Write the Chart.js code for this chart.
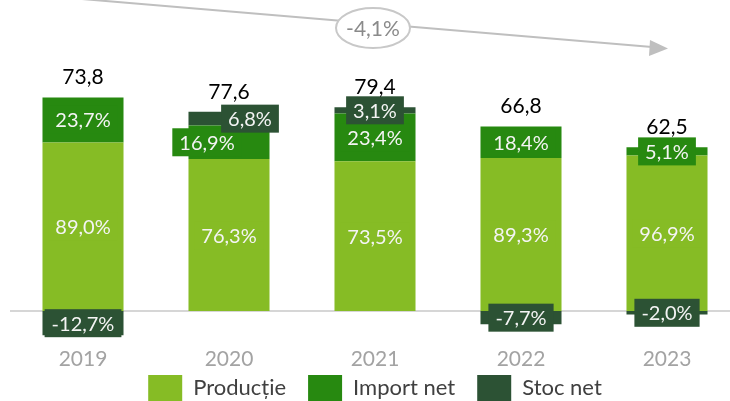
<!DOCTYPE html>
<html>
<head>
<meta charset="utf-8">
<script src="https://cdn.jsdelivr.net/npm/chart.js@4.4.0/dist/chart.umd.min.js"></script>
<style>
  html, body { margin: 0; padding: 0; background: #fff; overflow: hidden; }
  /* a bit wider / taller than the window: the right edge gets cut off like the original */
  #wrap { width: 740px; height: 440px; }
</style>
</head>
<body>
<div id="wrap"><canvas id="chart"></canvas></div>
<script>
const years = ['2019', '2020', '2021', '2022', '2023'];

// values in mil. units
const productie = [65.7, 59.2, 58.4, 59.6, 60.6];
const importNet = [17.5, 13.1, 18.6, 12.3, 3.2];
const stocNet = [-9.4, 5.3, 2.4, -5.1, -1.3];
const totals = [73.8, 77.6, 79.4, 66.8, 62.5];

const productieLabels = ['89,0%', '76,3%', '73,5%', '89,3%', '96,9%'];
const importLabels = ['23,7%', '16,9%', '23,4%', '18,4%', '5,1%'];
const stocLabels = ['-12,7%', '6,8%', '3,1%', '-7,7%', '-2,0%'];
const trendLabel = '-4,1%';

const COLORS = {
    productie: '#86bc25',
    importNet: '#278910',
    stocNet: '#2c5234'
};

// labels moved sideways in 2020 so they don't overlap
const labelShift = {
    1: { 1: -22 },
    2: { 1: 21 }
};

const FONT = 'Lato, "Open Sans", sans-serif';

function formatNumber(value) {
    return value.toFixed(1).replace('.', ',');
}

const zeroLine = {
    id: 'zeroLine',
    beforeDatasetsDraw(chart) {
        const ctx = chart.ctx;
        const y0 = chart.scales.y.getPixelForValue(0);
        ctx.save();
        ctx.strokeStyle = '#c8c8c8';
        ctx.lineWidth = 1.5;
        ctx.beginPath();
        ctx.moveTo(10, y0);
        ctx.lineTo(chart.width, y0);
        ctx.stroke();
        ctx.restore();
    }
};

// legend padding is also the gap between items, pull it up closer to the years
const legendLift = {
    id: 'legendLift',
    afterLayout(chart) {
        chart.legend.top -= 29;
        chart.legend.bottom -= 29;
    }
};

const segmentLabels = {
    id: 'segmentLabels',
    afterDatasetsDraw(chart) {
        const ctx = chart.ctx;
        ctx.save();
        ctx.textAlign = 'center';
        ctx.textBaseline = 'middle';

        chart.data.datasets.forEach(function(ds, di) {
            const meta = chart.getDatasetMeta(di);
            ctx.font = '20px ' + FONT;
            meta.data.forEach(function(bar, i) {
                const text = ds.pctLabels[i];
                const shift = labelShift[di] && labelShift[di][i] ? labelShift[di][i] : 0;
                const x = bar.x + shift;
                const y = (bar.y + bar.base) / 2;
                const w = ctx.measureText(text).width + 14;
                const h = 28;
                ctx.fillStyle = ds.backgroundColor;
                ctx.fillRect(x - w / 2, y - h / 2, w, h);
                ctx.fillStyle = '#f4f4f4';
                ctx.fillText(text, x, y + 1);
            });
        });

        // totals above the stacks
        const yScale = chart.scales.y;
        const xMeta = chart.getDatasetMeta(0);
        ctx.font = '21px ' + FONT;
        ctx.fillStyle = '#000';
        totals.forEach(function(total, i) {
            const top = productie[i] + importNet[i] + Math.max(stocNet[i], 0);
            const y = yScale.getPixelForValue(top) - 20;
            ctx.fillText(formatNumber(total), xMeta.data[i].x, y);
        });
        ctx.restore();
    }
};

const trendArrow = {
    id: 'trendArrow',
    afterDraw(chart) {
        const ctx = chart.ctx;
        ctx.save();
        ctx.strokeStyle = '#bfbfbf';
        ctx.fillStyle = '#bfbfbf';
        ctx.lineWidth = 2;
        ctx.beginPath();
        ctx.moveTo(82, -1);
        ctx.lineTo(652, 47);
        ctx.stroke();
        ctx.beginPath();
        ctx.moveTo(668, 48.5);
        ctx.lineTo(650, 40);
        ctx.lineTo(649, 56);
        ctx.closePath();
        ctx.fill();

        ctx.beginPath();
        ctx.ellipse(373, 28, 37, 20, 0, 0, Math.PI * 2);
        ctx.fillStyle = '#fff';
        ctx.fill();
        ctx.strokeStyle = '#c8c8c8';
        ctx.stroke();

        ctx.fillStyle = '#8a8a8a';
        ctx.font = '21px ' + FONT;
        ctx.textAlign = 'center';
        ctx.textBaseline = 'middle';
        ctx.fillText(trendLabel, 373, 29);
        ctx.restore();
    }
};

const ctx = document.getElementById('chart').getContext('2d');
const chart = new Chart(ctx, {
    type: 'bar',
    data: {
        labels: years,
        datasets: [
            {
                label: 'Producție',
                data: productie,
                pctLabels: productieLabels,
                backgroundColor: COLORS.productie
            },
            {
                label: 'Import net',
                data: importNet,
                pctLabels: importLabels,
                backgroundColor: COLORS.importNet
            },
            {
                label: 'Stoc net',
                data: stocNet,
                pctLabels: stocLabels,
                backgroundColor: COLORS.stocNet
            }
        ]
    },
    options: {
        responsive: true,
        maintainAspectRatio: false,
        animation: false,
        barPercentage: 0.555,
        categoryPercentage: 1,
        borderWidth: 0,
        layout: {
            padding: { top: 80, left: 10, right: 0, bottom: 0 }
        },
        scales: {
            x: {
                stacked: true,
                grid: { display: false, drawTicks: false },
                border: { display: false },
                ticks: {
                    color: '#a3a3a3',
                    padding: 10,
                    font: { family: FONT, size: 21 }
                }
            },
            y: {
                stacked: true,
                display: false,
                min: -10,
                max: 90
            }
        },
        plugins: {
            tooltip: { enabled: false },
            legend: {
                position: 'bottom',
                labels: {
                    boxWidth: 34,
                    boxHeight: 26,
                    padding: 22,
                    color: '#404040',
                    font: { family: FONT, size: 22 }
                }
            }
        }
    },
    plugins: [zeroLine, legendLift, segmentLabels, trendArrow]
});
</script>
</body>
</html>
